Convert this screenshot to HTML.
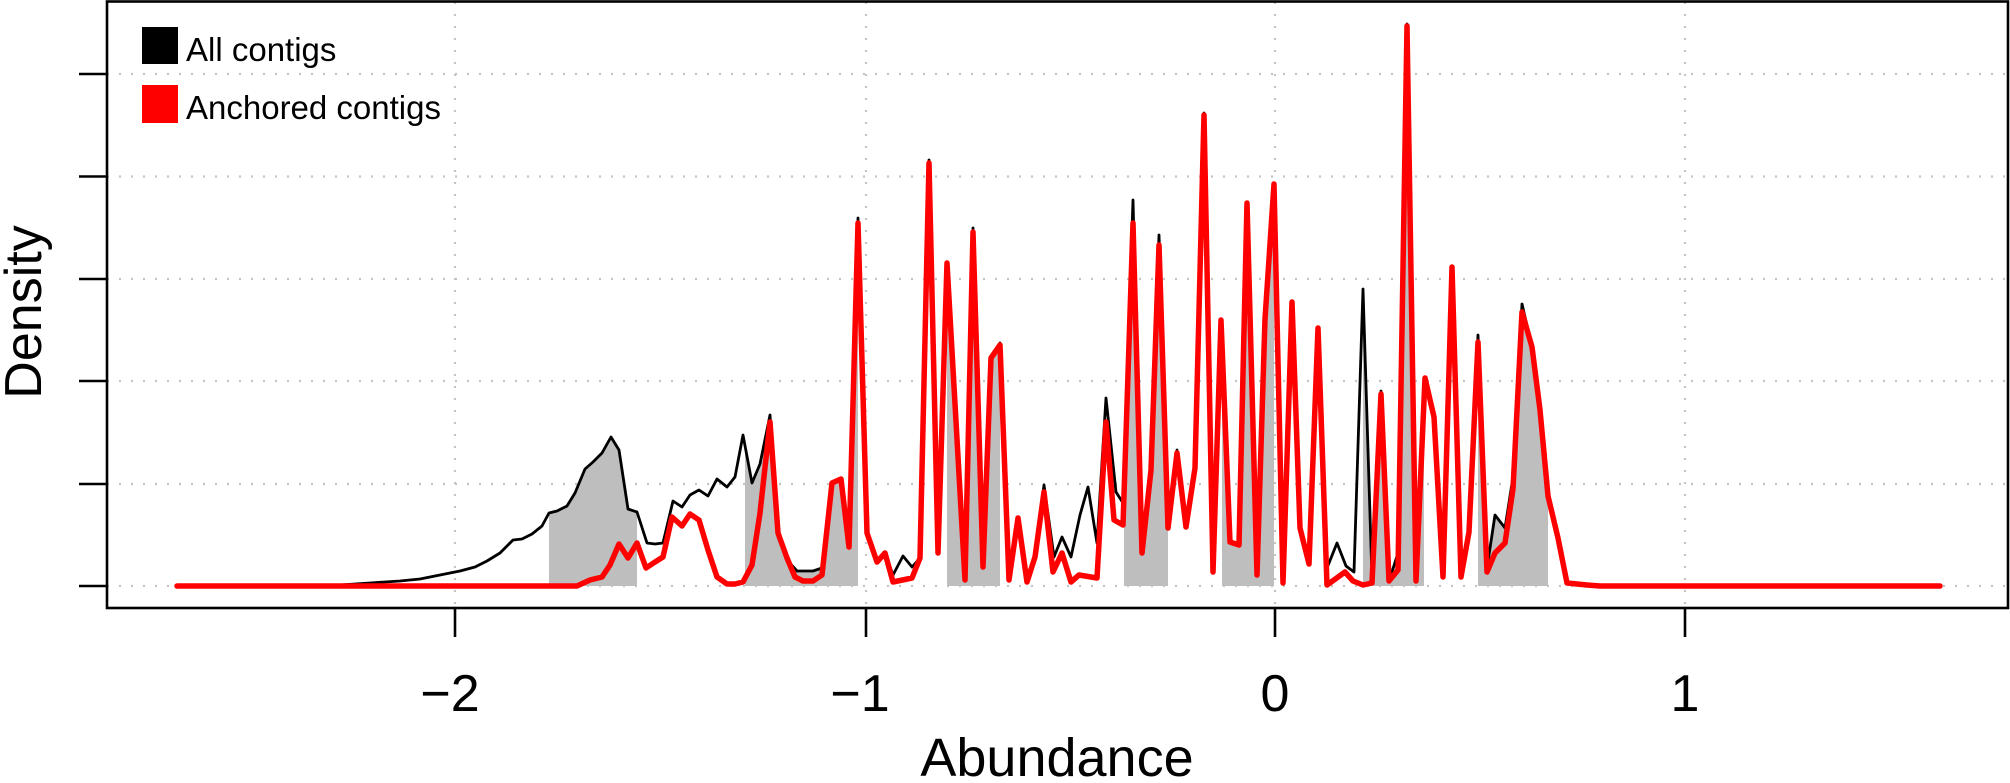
<!DOCTYPE html>
<html><head><meta charset="utf-8"><style>
html,body{margin:0;padding:0;background:#fff}
svg{display:block}
text{font-family:"Liberation Sans",Arial,sans-serif;fill:#000}
</style></head><body>
<svg width="2010" height="783" viewBox="0 0 2010 783" xmlns="http://www.w3.org/2000/svg">
<defs>
<clipPath id="bands">
<rect x="549" y="0" width="88" height="600"/>
<rect x="745" y="0" width="113" height="600"/>
<rect x="947" y="0" width="53" height="600"/>
<rect x="1124" y="0" width="44" height="600"/>
<rect x="1222" y="0" width="52" height="600"/>
<rect x="1363" y="0" width="61" height="600"/>
<rect x="1478" y="0" width="70" height="600"/>
</clipPath>
</defs>
<g stroke="#c4c4c4" stroke-width="2.2" stroke-dasharray="2,10" fill="none">
<line x1="107" y1="74" x2="2008" y2="74"/>
<line x1="107" y1="176.5" x2="2008" y2="176.5"/>
<line x1="107" y1="279" x2="2008" y2="279"/>
<line x1="107" y1="381" x2="2008" y2="381"/>
<line x1="107" y1="484" x2="2008" y2="484"/>
<line x1="107" y1="586" x2="2008" y2="586"/>
<line x1="455" y1="2" x2="455" y2="608"/>
<line x1="866" y1="2" x2="866" y2="608"/>
<line x1="1275" y1="2" x2="1275" y2="608"/>
<line x1="1685" y1="2" x2="1685" y2="608"/>
</g>
<polygon clip-path="url(#bands)" fill="#bebebe" points="177,586 300,586 340,585 370,583 400,581 420,579 440,575 460,571 475,567 487,561 500,553 513,540 522,539 532,534 542,526 549,513 557,511 567,506 575,493 585,469 593,462 602,453 611,437 619,450 628,509 637,512 647,543 655,544 663,543 673,501 682,507 690,495 699,490 708,496 717,479 727,487 735,477 743,435 752,483 760,464 770,415 778,537 787,560 797,571 813,571 822,568 832,483 841,479 849,547 858,218 867,533 877,562 885,553 893,575 903,556 912,567 920,558 929,160 938,553 947,263 965,580 973,228 983,567 991,358 1000,343 1009,580 1018,517 1027,582 1035,557 1044,485 1054,557 1062,537 1071,557 1080,515 1088,487 1097,543 1106,398 1116,492 1123,503 1133,200 1142,553 1151,470 1159,235 1168,528 1177,450 1186,527 1195,468 1204,113 1213,572 1221,320 1230,542 1239,545 1247,203 1257,575 1265,319 1274,184 1283,583 1292,302 1300,528 1309,564 1318,328 1327,568 1337,543 1346,566 1354,572 1363,289 1372,579 1381,391 1389,581 1398,553 1407,24 1416,581 1425,378 1434,417 1443,577 1452,266 1461,577 1469,532 1478,335 1487,568 1495,515 1505,528 1513,477 1522,304 1532,347 1540,410 1548,496 1558,538 1567,583 1587,585 1600,586 1940,586"/>
<polyline fill="none" stroke="#000" stroke-width="2.8" stroke-linejoin="round" points="177,586 300,586 340,585 370,583 400,581 420,579 440,575 460,571 475,567 487,561 500,553 513,540 522,539 532,534 542,526 549,513 557,511 567,506 575,493 585,469 593,462 602,453 611,437 619,450 628,509 637,512 647,543 655,544 663,543 673,501 682,507 690,495 699,490 708,496 717,479 727,487 735,477 743,435 752,483 760,464 770,415 778,537 787,560 797,571 813,571 822,568 832,483 841,479 849,547 858,218 867,533 877,562 885,553 893,575 903,556 912,567 920,558 929,160 938,553 947,263 965,580 973,228 983,567 991,358 1000,343 1009,580 1018,517 1027,582 1035,557 1044,485 1054,557 1062,537 1071,557 1080,515 1088,487 1097,543 1106,398 1116,492 1123,503 1133,200 1142,553 1151,470 1159,235 1168,528 1177,450 1186,527 1195,468 1204,113 1213,572 1221,320 1230,542 1239,545 1247,203 1257,575 1265,319 1274,184 1283,583 1292,302 1300,528 1309,564 1318,328 1327,568 1337,543 1346,566 1354,572 1363,289 1372,579 1381,391 1389,581 1398,553 1407,24 1416,581 1425,378 1434,417 1443,577 1452,266 1461,577 1469,532 1478,335 1487,568 1495,515 1505,528 1513,477 1522,304 1532,347 1540,410 1548,496 1558,538 1567,583 1587,585 1600,586 1940,586"/>
<polyline fill="none" stroke="#ff0000" stroke-width="5.5" stroke-linejoin="round" stroke-linecap="round" points="177,586 577,586 590,580 602,577 610,565 619,544 628,558 637,543 646,568 655,562 663,557 672,517 682,526 690,514 699,520 708,550 717,577 727,584 735,584 743,582 752,565 760,513 770,422 778,533 787,558 795,577 803,581 813,581 822,575 832,483 841,479 849,547 858,223 867,533 877,562 885,553 893,582 912,578 920,558 929,163 938,553 947,263 965,580 973,232 983,567 991,358 1000,345 1009,580 1018,518 1027,582 1035,557 1044,492 1053,572 1062,553 1071,582 1079,575 1097,578 1106,422 1114,520 1123,525 1133,223 1142,553 1151,470 1159,245 1168,528 1177,453 1186,527 1195,468 1204,115 1213,572 1221,320 1230,542 1239,545 1247,203 1257,575 1265,319 1274,184 1283,583 1292,302 1300,528 1309,564 1318,328 1327,585 1345,572 1353,581 1363,585 1372,583 1381,394 1389,581 1398,570 1407,26 1416,581 1425,378 1434,417 1443,577 1452,267 1461,577 1469,532 1478,342 1487,572 1495,553 1505,543 1513,489 1522,312 1532,347 1540,410 1548,496 1558,538 1567,583 1587,585 1600,586 1940,586"/>
<rect x="107" y="1.5" width="1901" height="606.5" fill="none" stroke="#000" stroke-width="2.6"/>
<g stroke="#000" stroke-width="2.6">
<line x1="79" y1="74" x2="107" y2="74"/>
<line x1="79" y1="176.5" x2="107" y2="176.5"/>
<line x1="79" y1="279" x2="107" y2="279"/>
<line x1="79" y1="381" x2="107" y2="381"/>
<line x1="79" y1="484" x2="107" y2="484"/>
<line x1="79" y1="586" x2="107" y2="586"/>
<line x1="455" y1="608" x2="455" y2="637"/>
<line x1="866" y1="608" x2="866" y2="637"/>
<line x1="1275" y1="608" x2="1275" y2="637"/>
<line x1="1685" y1="608" x2="1685" y2="637"/>
</g>
<g font-size="52" text-anchor="middle">
<text x="450" y="711">−2</text>
<text x="860" y="711">−1</text>
<text x="1275" y="711">0</text>
<text x="1685" y="711">1</text>
<text x="1057" y="776" font-size="54">Abundance</text>
<text transform="translate(41,312) rotate(-90)" font-size="52">Density</text>
</g>
<rect x="142" y="27" width="36" height="37" fill="#000"/>
<rect x="142" y="85" width="36" height="38" fill="#ff0000"/>
<text x="186" y="61" font-size="33">All contigs</text>
<text x="186" y="119" font-size="33">Anchored contigs</text>
</svg>
</body></html>
